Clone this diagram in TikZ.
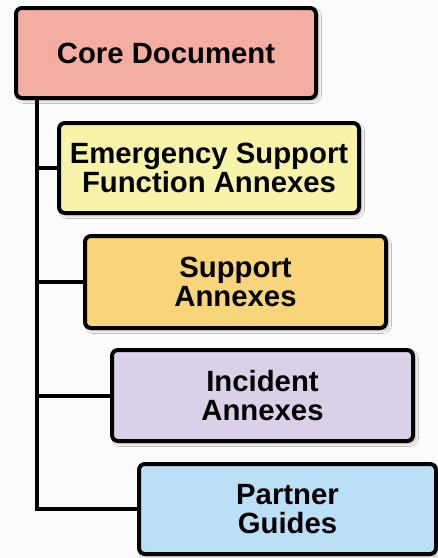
\documentclass[tikz,border=0pt]{standalone}
\usepackage{fontspec}
\setmainfont{Liberation Sans}
\usetikzlibrary{shadows.blur}
\definecolor{bg}{HTML}{FBFBFB}
\definecolor{corefill}{HTML}{F4AEA1}
\definecolor{esffill}{HTML}{F7F4A9}
\definecolor{supfill}{HTML}{F8D47A}
\definecolor{incfill}{HTML}{DAD1E8}
\definecolor{parfill}{HTML}{BBDFF6}
\begin{document}
\begin{tikzpicture}[x=1pt,y=1pt,
  box/.style={draw=black, line width=4pt, rounded corners=6pt,
    minimum width=300pt, minimum height=90pt, inner sep=0pt, outer sep=0pt,
    align=center, font=\fontsize{29.3}{29}\selectfont\bfseries,
    blur shadow={shadow xshift=2.5pt, shadow yshift=-2.5pt, shadow blur radius=3pt, shadow opacity=30}},
  link/.style={line width=4pt, draw=black}]
\fill[bg] (0,0) rectangle (438,-558);
\useasboundingbox (0,0) rectangle (438,-558);
\coordinate (trunk) at (37,0);
\node[box, fill=corefill] (core) at (166,-53) {Core Document};
\node[box, fill=esffill] (esf) at (209,-168) {Emergency Support\\Function Annexes};
\node[box, fill=supfill, minimum width=301pt, minimum height=92pt] (sup) at (235.5,-282) {Support\\Annexes};
\node[box, fill=incfill, minimum width=301pt, minimum height=91pt] (inc) at (262.5,-395.5) {Incident\\Annexes};
\node[box, fill=parfill, minimum width=297pt] (par) at (287.5,-509) {Partner\\Guides};
\draw[link] (core.south -| trunk) -- (trunk |- par.west) -- (par.west);
\draw[link] (trunk |- esf.west) -- (esf.west);
\draw[link] (trunk |- sup.west) -- (sup.west);
\draw[link] (trunk |- inc.west) -- (inc.west);
\end{tikzpicture}
\end{document}
